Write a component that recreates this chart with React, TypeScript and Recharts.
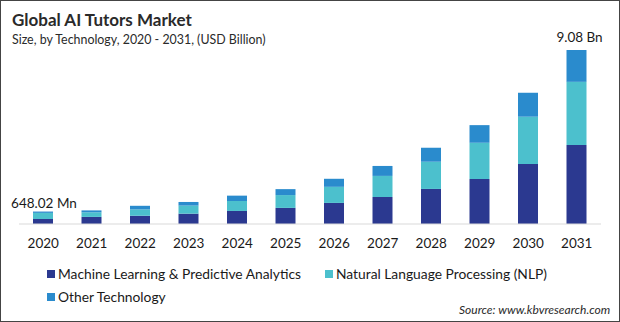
import React from "react";
import { BarChart, Bar, XAxis, YAxis, LabelList } from "recharts";

const years = ["2020", "2021", "2022", "2023", "2024", "2025", "2026", "2027", "2028", "2029", "2030", "2031"];
const machineLearning = [0.26, 0.37, 0.43, 0.54, 0.68, 0.84, 1.1, 1.41, 1.83, 2.35, 3.13, 4.12];
const nlp = [0.32, 0.24, 0.33, 0.42, 0.52, 0.67, 0.84, 1.1, 1.42, 1.89, 2.47, 3.3];
const otherTech = [0.07, 0.1, 0.19, 0.19, 0.28, 0.31, 0.42, 0.52, 0.73, 0.92, 1.25, 1.66];
const totalLabels = ["648.02 Mn", "", "", "", "", "", "", "", "", "", "", "9.08 Bn"];

const seriesNames = [
  "Machine Learning & Predictive Analytics",
  "Natural Language Processing (NLP)",
  "Other Technology",
];
const colors = ["#2b3990", "#4cc0cd", "#2a8bcd"];

const data = years.map((y, i) => ({
  year: y,
  ml: machineLearning[i],
  nlp: nlp[i],
  other: otherTech[i],
  label: totalLabels[i],
}));

const FONT = "Lato, 'Open Sans', sans-serif";

const TopLabel = (props: any) => {
  const { x, y, width, value } = props;
  if (!value) return null;
  return (
    <text
      x={x + width / 2 + (value === "9.08 Bn" ? 3 : 1)}
      y={y - (value === "9.08 Bn" ? 8 : 4)}
      textAnchor="middle"
      fontSize={13.5}
      fontFamily={FONT}
      fill="#1a1a1a"
    >
      {value}
    </text>
  );
};

const LegendBlock = () => {
  const item = (i: number, left: number, top: number) => (
    <div
      key={i}
      style={{ position: "absolute", left, top, display: "flex", alignItems: "center", whiteSpace: "nowrap" }}
    >
      <span style={{ width: 8, height: 8, background: colors[i], display: "inline-block", marginRight: 3 }} />
      <span style={{ fontSize: 13.8, fontFamily: FONT, color: "#1a1a1a", lineHeight: "16px" }}>{seriesNames[i]}</span>
    </div>
  );
  return (
    <div style={{ position: "absolute", left: -1, top: 265, width: 620, height: 50 }}>
      {item(0, 47, 0)}
      {item(1, 325, 0)}
      {item(2, 47, 23)}
    </div>
  );
};

export default function App() {
  return (
    <div
      style={{
        position: "fixed",
        left: 0,
        top: 0,
        width: 620,
        height: 322,
        background: "#fff",
        boxSizing: "border-box",
        border: "1px solid #444",
        overflow: "hidden",
      }}
    >
      <div
        style={{
          position: "absolute",
          left: 11,
          top: 8,
          fontFamily: FONT,
          fontWeight: 700,
          fontSize: 17,
          color: "#2a2a2a",
          whiteSpace: "nowrap",
        }}
      >
        Global AI Tutors Market
      </div>
      <div
        style={{
          position: "absolute",
          left: 11,
          top: 31,
          fontFamily: FONT,
          fontSize: 12.4,
          color: "#2a2a2a",
          whiteSpace: "nowrap",
        }}
      >
        Size, by Technology, 2020 - 2031, (USD Billion)
      </div>
      <div
        style={{
          position: "absolute",
          left: 458,
          top: 301,
          fontFamily: FONT,
          fontStyle: "italic",
          fontSize: 12,
          color: "#2a2a2a",
          whiteSpace: "nowrap",
        }}
      >
        Source: www.kbvresearch.com
      </div>
      <LegendBlock />
      <div style={{ position: "absolute", left: -1, top: -1 }}>
        <BarChart
          width={620}
          height={322}
          data={data}
          margin={{ top: 32.4, right: 19, left: 19, bottom: 68 }}
        >
          <XAxis
            dataKey="year"
            height={30}
            tickLine={false}
            tickSize={0}
            tickMargin={14}
            axisLine={{ stroke: "#d9d9d9" }}
            tick={{ fontSize: 13.5, fontFamily: FONT, fill: "#1a1a1a" }}
            interval={0}
          />
          <YAxis hide domain={[0, 10]} />
          <Bar dataKey="ml" stackId="a" fill={colors[0]} barSize={20} isAnimationActive={false} name={seriesNames[0]} />
          <Bar dataKey="nlp" stackId="a" fill={colors[1]} barSize={20} isAnimationActive={false} name={seriesNames[1]} />
          <Bar dataKey="other" stackId="a" fill={colors[2]} barSize={20} isAnimationActive={false} name={seriesNames[2]}>
            <LabelList dataKey="label" content={<TopLabel />} />
          </Bar>
        </BarChart>
      </div>
    </div>
  );
}
